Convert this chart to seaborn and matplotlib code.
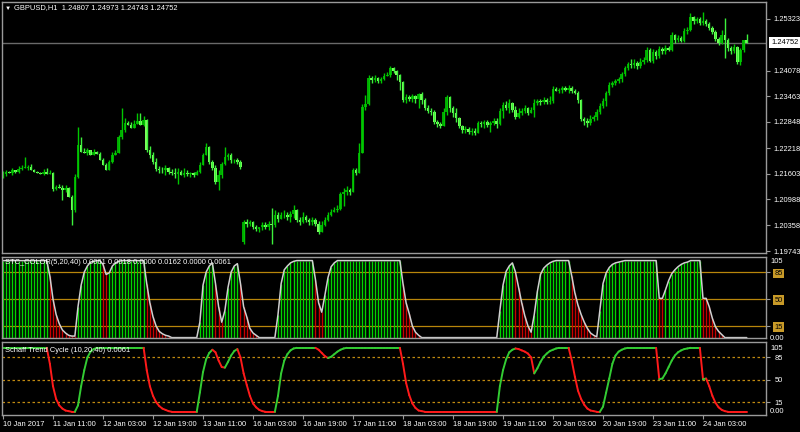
import numpy as np
import pandas as pd
import matplotlib
matplotlib.use("Agg")
import matplotlib.pyplot as plt
import matplotlib.transforms as mtransforms
from matplotlib.collections import LineCollection
import seaborn as sns

# ---------------- data ----------------
close = [
    1.2160, 1.2165, 1.2163, 1.2168, 1.2165, 1.2172, 1.2175, 1.2175, 1.2177, 1.2170,
    1.2165, 1.2163, 1.2160, 1.2165, 1.2160, 1.2163, 1.2124, 1.2129, 1.2127, 1.2122,
    1.2127, 1.2103, 1.2074, 1.2153, 1.2230, 1.2213, 1.2211, 1.2216, 1.2206, 1.2213,
    1.2208, 1.2194, 1.2182, 1.2170, 1.2189, 1.2206, 1.2211, 1.2249, 1.2266, 1.2283,
    1.2278, 1.2271, 1.2280, 1.2288, 1.2278, 1.2290, 1.2218, 1.2206, 1.2189, 1.2172,
    1.2170, 1.2168, 1.2175, 1.2165, 1.2163, 1.2160, 1.2165, 1.2158, 1.2163,
    1.2160, 1.2163, 1.2158, 1.2165, 1.2182, 1.2206, 1.2225, 1.2189, 1.2175, 1.2141, 1.2156,
    1.2184, 1.2201, 1.2204, 1.2192, 1.2194, 1.2189, 1.2177, 1.2045, 1.2040, 1.2045,
    1.2033, 1.2028, 1.2031, 1.2038, 1.2033, 1.2040, 1.2038, 1.2060, 1.2052, 1.2060,
    1.2062, 1.2055, 1.2064, 1.2074, 1.2050, 1.2043, 1.2057, 1.2048, 1.2043, 1.2048,
    1.2040, 1.2021, 1.2036, 1.2048, 1.2060, 1.2069, 1.2072, 1.2076, 1.2112, 1.2117,
    1.2120, 1.2117, 1.2168, 1.2163, 1.2211, 1.2321, 1.2328, 1.2391, 1.2386,
    1.2391, 1.2384, 1.2388, 1.2396, 1.2398, 1.2415, 1.2408, 1.2398, 1.2381, 1.2338,
    1.2345, 1.2340, 1.2348, 1.2340, 1.2352, 1.2338, 1.2319, 1.2312, 1.2309, 1.2285,
    1.2280, 1.2276, 1.2309, 1.2345, 1.2319, 1.2307, 1.2295, 1.2276, 1.2266, 1.2268,
    1.2261, 1.2264, 1.2259, 1.2283, 1.2280, 1.2285, 1.2278, 1.2283, 1.2288, 1.2280,
    1.2312, 1.2326, 1.2319, 1.2331, 1.2314, 1.2297, 1.2307, 1.2312, 1.2319, 1.2307,
    1.2314, 1.2331, 1.2336, 1.2333, 1.2338, 1.2333, 1.2336, 1.2364,
    1.2360, 1.2362, 1.2367, 1.2362, 1.2367, 1.2360, 1.2355, 1.2338, 1.2292, 1.2288,
    1.2283, 1.2292, 1.2297, 1.2309, 1.2324, 1.2336, 1.2355, 1.2374, 1.2379, 1.2384,
    1.2388, 1.2400, 1.2415, 1.2424, 1.2422, 1.2427, 1.2420, 1.2429, 1.2434, 1.2458,
    1.2432, 1.2453, 1.2444, 1.2460, 1.2456, 1.2463, 1.2458, 1.2494, 1.2482, 1.2487,
    1.2480, 1.2504, 1.2506, 1.2537, 1.2528, 1.2532, 1.2523, 1.2528, 1.2520, 1.2511,
    1.2501, 1.2484, 1.2475, 1.2494, 1.2482, 1.2463, 1.2456, 1.2465, 1.2429, 1.2458,
    1.24807, 1.24752,
]
# bars whose open is not the previous close (first bar, Monday gap)
gap_bars = [0, 77]
gap_opens = [1.2156, 1.1997]
last_open = 1.24807

# upper / lower wick lengths in pips
up_wick = [
    7, 5, 2, 5, 2, 7, 7, 26, 5, 7, 2, 2, 2, 7, 10, 7, 2, 5, 7, 5,
    7, 2, 5, 7, 43, 19, 10, 5, 2, 7, 2, 5, 5, 5, 5, 7, 7, 5, 53, 12,
    5, 7, 10, 19, 17, 10, 2, 10, 7, 10, 7, 7, 7, 2, 7, 10, 10, 5, 12,
    5, 2, 2, 5, 7, 5, 10, 2, 5, 5, 14,
    5, 24, 7, 5, 2, 5, 5, 5, 7, 5, 2, 5, 2, 7, 5, 7, 38, 12, 7, 7,
    10, 7, 7, 12, 2, 7, 10, 5, 5, 7, 5, 7, 10, 7, 7, 7, 7, 10, 5, 10,
    10, 7, 5, 5, 24, 7, 22, 7, 5,
    7, 2, 5, 7, 7, 5, 2, 2, 2, 2, 7, 5, 5, 2, 2, 5, 5, 7, 7, 5,
    5, 5, 10, 5, 2, 5, 12, 2, 2, 7, 5, 7, 7, 5, 5, 5, 5, 5, 5, 5,
    7, 7, 10, 10, 2, 10, 10, 5, 7, 2, 7, 10, 5, 5, 7, 5, 10, 7,
    5, 5, 5, 5, 7, 5, 5, 5, 2, 5, 5, 10, 5, 7, 7, 7, 5, 7, 5, 5,
    5, 5, 5, 5, 12, 10, 5, 10, 7, 7, 5, 7, 5, 7, 5, 7, 5, 7, 2, 7,
    5, 7, 7, 10, 2, 5, 5, 22, 5, 5, 5, 5, 5, 12, 41, 5, 5, 7, 2, 5,
    2, 16.6,
]
dn_wick = [
    5, 5, 2, 5, 2, 2, 2, 2, 5, 0, 0, 0, 0, 2, 0, 0, 5, 2, 0, 24,
    5, 0, 36, 5, 2, 0, 2, 5, 0, 2, 0, 0, 0, 2, 2, 2, 2, 0, 5, 5,
    0, 0, 2, 0, 0, 2, 5, 7, 5, 5, 7, 7, 10, 5, 7, 10, 24, 2, 5,
    5, 7, 5, 2, 2, 2, 2, 5, 5, 5, 19,
    5, 2, 7, 5, 5, 5, 5, 7, 7, 5, 5, 5, 7, 7, 5, 7, 48, 7, 7, 0,
    7, 5, 10, 10, 7, 5, 2, 5, 5, 7, 5, 5, 2, 2, 2, 2, 2, 5, 2, 29,
    7, 7, 2, 7, 2, 2, 7, 2, 7,
    5, 5, 5, 2, 2, 5, 5, 12, 19, 5, 7, 5, 7, 10, 22, 10, 5, 5, 7, 5,
    7, 5, 2, 7, 10, 10, 10, 7, 7, 7, 5, 7, 5, 2, 7, 10, 5, 17, 5, 10,
    2, 17, 5, 14, 5, 5, 2, 5, 7, 5, 2, 17, 5, 7, 5, 5, 5, 5,
    2, 5, 7, 2, 7, 5, 2, 7, 5, 10, 10, 5, 5, 7, 5, 5, 12, 5, 5, 5,
    5, 7, 5, 5, 7, 7, 7, 5, 5, 5, 2, 5, 7, 5, 7, 7, 2, 2, 7, 5,
    2, 2, 7, 2, 7, 5, 5, 5, 5, 5, 5, 5, 5, 2, 43, 7, 7, 5, 5, 7,
    5, 0.9,
]

stc_color = [
    100, 100, 100, 100, 100, 100, 100, 100, 100, 100, 100, 100, 100, 100, 100,
    80, 50, 30, 18, 10, 6, 3, 2, 2,
    40, 68, 85, 93, 98, 99, 100, 100, 95, 82, 84, 93, 97, 99,
    100, 100, 100, 100, 100, 100, 100, 100,
    70, 45, 27, 15, 8, 5, 3, 2,
    0, 0, 0, 0, 0, 0, 0, 0, 0,
    20, 68, 85, 93, 97,
    70, 40, 20,
    35, 65, 85, 93, 96,
    70, 40, 27, 12, 6, 3,
    0, 0, 0, 0, 0, 0,
    30, 70, 88, 93, 97, 99,
    100, 100, 100, 100, 100, 100,
    75, 45, 33,
    55, 78, 92, 97,
    100, 100, 100, 100, 100, 100, 100, 100, 100, 100, 100,
    100, 100, 100, 100, 100, 100, 100, 100, 100, 100,
    70, 45, 31, 15, 7, 3,
    0, 0, 0, 0, 0, 0, 0, 0, 0, 0, 0, 0, 0, 0, 0, 0, 0, 0, 0, 0, 0, 0, 0, 0, 0,
    35, 68, 86, 93, 97,
    85, 65, 45, 28, 15, 7,
    30, 60, 82, 90, 94, 97, 99,
    100, 100, 100, 100, 100,
    80, 58, 42, 30, 20, 12, 6, 3, 1,
    35, 70, 84, 91, 95, 97, 98, 99,
    100, 100, 100, 100, 100, 100, 100, 100, 100, 100, 100,
    51, 51,
    62, 74, 83, 88, 92, 95, 97, 98,
    100, 100, 100, 100,
    51, 51,
    40, 25, 14, 8, 4,
    0, 0, 0, 0, 0, 0, 0, 0,
]

schaff = [
    100, 100, 100, 100, 100, 100, 100, 100, 100, 100, 100, 100, 100, 100, 100,
    75, 40, 20, 10, 5, 2, 1, 0, 0,
    10, 40, 65, 85, 94, 98,
    100, 100, 100, 100, 100, 100, 100, 100, 100, 100, 100, 100, 100, 100, 100, 100,
    65, 40, 25, 15, 9, 5, 3, 1,
    0, 0, 0, 0, 0, 0, 0, 0, 0,
    30, 62, 82, 92, 97,
    93, 80, 70, 69,
    78, 88, 95, 98,
    85, 60, 42, 25, 13, 7, 3, 1,
    0, 0, 0, 0,
    25, 60, 80, 90, 96, 99,
    100, 100, 100, 100, 100, 100, 100,
    97, 92, 87, 84,
    86, 90, 94, 97, 99,
    100, 100, 100, 100, 100, 100, 100, 100, 100, 100, 100, 100, 100, 100, 100, 100, 100, 100,
    75, 45, 26, 13, 6, 2, 1,
    0, 0, 0, 0, 0, 0, 0, 0, 0, 0, 0, 0, 0, 0, 0, 0, 0, 0, 0, 0, 0, 0, 0, 0,
    40, 65, 82, 93, 97, 99,
    98, 96, 94, 91, 85, 60,
    68, 78, 86, 91, 95, 97, 99,
    100, 100, 100, 100,
    80, 55, 33, 20, 11, 5, 2, 1,
    0, 0,
    8, 30, 52, 75, 88, 94, 97, 99,
    100, 100, 100, 100, 100, 100, 100, 100, 100, 100,
    51, 52,
    60, 70, 80, 88, 93, 96, 98, 99,
    100, 100, 100, 100,
    51, 52,
    40, 25, 14, 7, 3, 1,
    0, 0, 0, 0, 0, 0, 0,
]

price_ticks = [1.25323, 1.24078, 1.23463, 1.22848, 1.22218, 1.21603, 1.20988, 1.20358, 1.19743]
last_price = 1.24752
levels = [85, 50, 15]
time_tick_bars = [0, 16, 32, 48, 64, 80, 96, 112, 128, 144, 160, 176, 192, 208, 224]
time_labels = ["10 Jan 2017", "11 Jan 11:00", "12 Jan 03:00", "12 Jan 19:00", "13 Jan 11:00",
               "16 Jan 03:00", "16 Jan 19:00", "17 Jan 11:00", "18 Jan 03:00", "18 Jan 19:00",
               "19 Jan 11:00", "20 Jan 03:00", "20 Jan 19:00", "23 Jan 11:00", "24 Jan 03:00"]
title_main = "GBPUSD,H1  1.24807 1.24973 1.24743 1.24752"
title_stc = "STC_COLOR(5,20,40) 0.0061 0.0018 0.0000 0.0162 0.0000 0.0061"
title_schaff = "Schaff Trend Cycle (10,20,40) 0.0061"

# ---------------- build OHLC ----------------
n = len(close)
c = np.array(close, dtype=float)
o = np.empty(n)
o[1:] = c[:-1]
for b, v in zip(gap_bars, gap_opens):
    o[b] = v
o[-1] = last_open
hi = np.maximum(o, c) + np.array(up_wick) * 1e-4
lo = np.minimum(o, c) - np.array(dn_wick) * 1e-4
x = np.arange(n)
df = pd.DataFrame({"bar": x, "open": o, "close": c, "high": hi, "low": lo,
                   "stc": stc_color, "schaff": schaff})

# ---------------- style ----------------
sns.set_theme(style="dark", rc={
    "axes.facecolor": "black", "figure.facecolor": "black",
    "axes.edgecolor": "#9a9a9a", "axes.grid": False,
    "text.color": "white", "xtick.color": "#9a9a9a", "ytick.color": "#9a9a9a",
})
plt.rcParams["font.family"] = ["Liberation Sans", "DejaVu Sans"]
FS = 5.4
FRAME = "#9a9a9a"

W, H = 800.0, 432.0
fig = plt.figure(figsize=(8, 4.32), dpi=100, facecolor="black")


def box(top, bottom, left=2, right=766):
    return [left / W, 1 - bottom / H, (right - left) / W, (bottom - top) / H]


ax0 = fig.add_axes(box(2, 253))
ax1 = fig.add_axes(box(256.5, 338))
ax2 = fig.add_axes(box(342, 415))
xl = (-0.32, 244.16)
for ax in (ax0, ax1, ax2):
    ax.set_facecolor("black")
    ax.set_xlim(*xl)
    for s in ax.spines.values():
        s.set_color(FRAME)
        s.set_linewidth(1.0)
    ax.tick_params(axis="x", bottom=False, labelbottom=False)

# ---------------- main candles ----------------
bull = df["close"] >= df["open"]
wick_col = np.where(bull, "#00c800", "#3cf03c")
ax0.vlines(df["bar"], df["low"], df["high"], colors=wick_col, lw=1.0)
body_h = np.maximum((df["close"] - df["open"]).abs(), 0.00008)
body_b = np.minimum(df["open"], df["close"])
ax0.bar(df["bar"][bull], body_h[bull], bottom=body_b[bull], width=0.8,
        color="#00aa00", edgecolor="none")
ax0.bar(df["bar"][~bull], body_h[~bull], bottom=body_b[~bull], width=0.8,
        color="#7cff5c", edgecolor="none")
ax0.axhline(last_price, color="#6a6a6a", lw=1.0, zorder=0.5)
ax0.set_ylim(1.19695, 1.25731)
ax0.yaxis.tick_right()
ax0.set_yticks(price_ticks)
ax0.set_yticklabels([f"{p:.5f}" for p in price_ticks])
ax0.tick_params(axis="y", right=True, left=False, length=3, width=0.8,
                colors=FRAME, labelcolor="white", labelsize=FS, pad=2)
trans0 = mtransforms.blended_transform_factory(ax0.transAxes, ax0.transData)
ax0.text(1.0 + 5 / 764, last_price, f"{last_price:.5f}", transform=trans0,
         ha="left", va="center", fontsize=FS, color="black", clip_on=False,
         bbox=dict(boxstyle="square,pad=0.25", fc="white", ec="none"))
ax0.text(3 / 764, 1 - 6 / 251, "\u25bc", transform=ax0.transAxes, ha="left", va="center",
         fontsize=4.5, color="white")
ax0.text(12 / 764, 1 - 6 / 251, title_main, transform=ax0.transAxes, ha="left",
         va="center", fontsize=FS, color="white")

# ---------------- STC_COLOR histogram ----------------
def trend_dir(vals):
    d = np.ones(len(vals))
    for i in range(1, len(vals)):
        if vals[i] > vals[i - 1]:
            d[i] = 1
        elif vals[i] < vals[i - 1]:
            d[i] = -1
        else:
            d[i] = d[i - 1]
    return d

d1 = trend_dir(df["stc"].values)
hist_col = np.where(d1 > 0, "#00d400", "#c80000")
ax1.vlines(df["bar"], 0, df["stc"], colors=hist_col, lw=1.0)
for lv in levels:
    ax1.axhline(lv, color="#b8860b", lw=0.9, zorder=0.8)
sns.lineplot(data=df, x="bar", y="stc", ax=ax1, color="#d0d0d0", lw=1.1, legend=False)
ax1.set_ylim(-0.5, 105.3)
ax1.set_xlim(*xl)
ax1.set_xlabel("")
ax1.set_ylabel("")
ax1.yaxis.tick_right()
ax1.set_yticks(levels)
ax1.set_yticklabels([str(v) for v in levels])
ax1.tick_params(axis="y", right=True, left=False, length=3, width=0.8,
                colors=FRAME, labelcolor="black", labelsize=FS, pad=3)
for t in ax1.get_yticklabels():
    t.set_bbox(dict(boxstyle="square,pad=0.15", fc="#c89a28", ec="none"))
ax1.tick_params(axis="x", bottom=False, labelbottom=False)
ax1.text(1.0 + 4 / 764, 1 - 5 / 81.5, "105", transform=ax1.transAxes, ha="left",
         va="center", fontsize=FS, color="white", clip_on=False)
ax1.text(1.0 + 4 / 764, 0.0, "0.00", transform=ax1.transAxes, ha="left",
         va="center", fontsize=FS, color="white", clip_on=False)
ax1.text(3 / 764, 1 - 6 / 81.5, title_stc, transform=ax1.transAxes, ha="left",
         va="center", fontsize=FS, color="white")

# ---------------- Schaff Trend Cycle ----------------
d2 = trend_dir(df["schaff"].values)
pts = np.column_stack([df["bar"].values, df["schaff"].values])
segs = np.stack([pts[:-1], pts[1:]], axis=1)
seg_col = np.where(d2[1:] > 0, "#33cc33", "#ff1a1a")
for lv in levels:
    ax2.axhline(lv, color="#c08a10", lw=0.9, ls=(0, (2, 2)), zorder=0.8)
ax2.add_collection(LineCollection(segs, colors=seg_col, lw=1.4, capstyle="round"))
ax2.set_ylim(-5, 109.1)
ax2.yaxis.tick_right()
ax2.set_yticks(levels)
ax2.set_yticklabels([str(v) for v in levels])
ax2.tick_params(axis="y", right=True, left=False, length=3, width=0.8,
                colors=FRAME, labelcolor="white", labelsize=FS, pad=3)
ax2.text(1.0 + 4 / 764, 1 - 7 / 73, "105", transform=ax2.transAxes, ha="left",
         va="center", fontsize=FS, color="white", clip_on=False)
ax2.text(1.0 + 4 / 764, (0 + 5) / 114.1, "0.00", transform=ax2.transAxes, ha="left",
         va="center", fontsize=FS, color="white", clip_on=False)
ax2.text(3 / 764, 1 - 8 / 73, title_schaff, transform=ax2.transAxes, ha="left",
         va="center", fontsize=FS, color="white")
ax2.set_xticks(time_tick_bars)
ax2.set_xticklabels(time_labels, ha="left")
ax2.tick_params(axis="x", bottom=True, labelbottom=True, length=3, width=0.8,
                colors=FRAME, labelcolor="white", labelsize=FS, pad=1.5)

fig.savefig("out.png", dpi=100, facecolor="black")
